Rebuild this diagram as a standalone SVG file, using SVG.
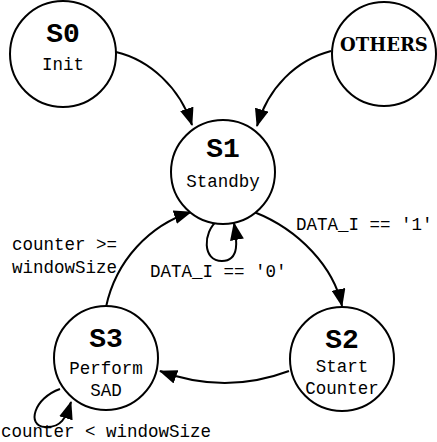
<svg xmlns="http://www.w3.org/2000/svg" width="437" height="442" viewBox="0 0 437 442">
<style>
.st{fill:#fff;stroke:#000;stroke-width:2}
.nm{font-family:"Liberation Mono","Courier New",monospace;font-weight:bold;font-size:28px;text-anchor:middle}
.ds{font-family:"Liberation Mono","Courier New",monospace;font-size:17.5px;text-anchor:middle}
.lb{font-family:"Liberation Mono","Courier New",monospace;font-size:17.5px}
.oth{font-family:"DejaVu Serif",serif;font-weight:bold;font-size:18px;text-anchor:middle}
.cn{fill:none;stroke:#000;stroke-width:2;marker-end:url(#ah)}
</style>
<defs>
<marker id="ah" viewBox="0 0 18 14" markerWidth="18" markerHeight="14" refX="17" refY="7" orient="auto" markerUnits="userSpaceOnUse">
<path d="M0,0 L18,7 L0,14 z" fill="#000"/>
</marker>
</defs>
<rect width="437" height="442" fill="#fff"/>
<g id="connectors">
<path class="cn" d="M116,52 C150,60 180,88 192,125"/>
<path class="cn" d="M331,51 C296,60 268,88 257,126"/>
<path class="cn" d="M254,212 C300,230 334,268 342,306"/>
<path class="cn" d="M289,371 Q225,395 160,371"/>
<path class="cn" d="M106,307 C116,260 150,225 191,212"/>
<path class="cn" d="M217,221 C203,232 202,261 222,261 C240,261 237,240 234,223"/>
<path class="cn" d="M60,389 C34,398 26,426 45,427 C61,428 66,418 71,402"/>
<text class="lb" x="296" y="230">DATA_I == '1'</text>
<text class="lb" x="150" y="277">DATA_I == '0'</text>
<text class="lb" x="12" y="250">counter &gt;=</text>
<text class="lb" x="12" y="273">windowSize</text>
<text class="lb" x="1" y="437">counter &lt; windowSize</text>
</g>
<g id="S0">
<circle class="st" cx="63" cy="54" r="53"/>
<text class="nm" x="63" y="42">S0</text>
<text class="ds" x="63" y="70">Init</text>
</g>
<g id="OTHERS">
<circle class="st" cx="384" cy="54" r="52"/>
<text class="oth" x="384" y="51">OTHERS</text>
</g>
<g id="S1">
<circle class="st" cx="223" cy="172" r="52"/>
<text class="nm" x="223" y="157">S1</text>
<text class="ds" x="223" y="187">Standby</text>
</g>
<g id="S3">
<circle class="st" cx="106" cy="358" r="52"/>
<text class="nm" x="106" y="347">S3</text>
<text class="ds" x="106" y="374">Perform</text>
<text class="ds" x="106" y="396">SAD</text>
</g>
<g id="S2">
<circle class="st" cx="342" cy="359" r="52"/>
<text class="nm" x="342" y="348">S2</text>
<text class="ds" x="342" y="372">Start</text>
<text class="ds" x="342" y="394">Counter</text>
</g>
</svg>
